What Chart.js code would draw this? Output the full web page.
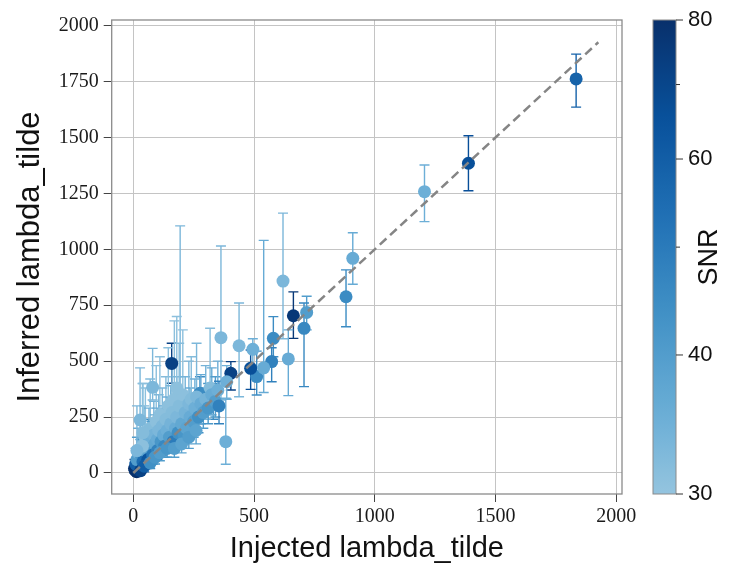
<!DOCTYPE html>
<html>
<head>
<meta charset="utf-8">
<script src="https://cdn.jsdelivr.net/npm/chart.js@4.4.1/dist/chart.umd.min.js"></script>
<style>
  html, body { margin: 0; padding: 0; background: #fff; }
  #wrap { width: 751px; height: 568px; position: relative; }
</style>
</head>
<body>
<div id="wrap"><canvas id="lambdachart"></canvas></div>
<script>
// injected vs inferred lambda_tilde, with 90% bounds and network SNR
const injected = [1834, 1388, 1206, 909, 881, 663, 718, 707, 642, 620,
  580, 573, 511, 486, 495, 438, 404, 387, 363, 383,
  331, 276, 269, 159, 80, 62, 28, 14, 118, 194,
  540, 5, 8, 20, 25, 10, 15, 20, 30, 35,
  40, 45, 50, 55, 60, 65, 70, 75, 80, 85,
  90, 95, 100, 100, 105, 110, 115, 120, 125, 130,
  135, 140, 145, 150, 155, 160, 165, 170, 175, 180,
  185, 190, 200, 205, 210, 215, 220, 230, 235, 240,
  250, 255, 262, 270, 280, 290, 300, 318, 310, 325,
  340, 350, 355, 30, 45, 70, 90, 110, 140, 170,
  200, 230, 260, 40, 38, 180, 15];
const inferred = [1762, 1385, 1258, 960, 788, 703, 718, 647, 510, 858,
  602, 498, 431, 468, 553, 569, 446, 408, 605, 140,
  311, 356, 282, 490, 383, 177, 237, 6, 118, 250,
  470, 20, 12, 15, 30, 40, 60, 90, 110, 70,
  50, 130, 160, 95, 60, 140, 200, 110, 80, 170,
  130, 230, 150, 100, 190, 260, 140, 210, 170, 120,
  240, 190, 300, 160, 220, 270, 140, 330, 200, 250,
  180, 300, 220, 350, 170, 270, 200, 310, 250, 330,
  230, 290, 340, 250, 310, 270, 330, 380, 290, 350,
  320, 370, 300, 10, 30, 45, 70, 90, 110, 110,
  130, 160, 190, 180, 120, 380, 100];
const lower = [1636, 1262, 1124, 844, 654, 602, 640, 386, 346, 600,
  520, 408, 349, 374, 475, 341, 371, 330, 326, 39,
  240, 280, 220, 401, 326, 120, 150, 0, 80, 120,
  360, 0, 0, 0, 5, 5, 10, 30, 40, 20,
  15, 60, 80, 40, 25, 70, 110, 50, 40, 90,
  70, 140, 80, 60, 100, 160, 80, 120, 100, 70,
  140, 110, 180, 100, 130, 170, 90, 200, 120, 150,
  110, 190, 140, 220, 110, 170, 130, 200, 170, 220,
  160, 200, 230, 180, 220, 200, 240, 260, 220, 260,
  250, 280, 220, 0, 5, 20, 40, 55, 70, 70,
  90, 110, 130, 100, 60, 260, 40];
const upper = [1873, 1508, 1377, 1074, 908, 810, 790, 760, 640, 1162,
  699, 560, 545, 550, 600, 760, 498, 480, 1015, 334,
  400, 430, 340, 580, 557, 240, 470, 20, 160, 1105,
  1040, 60, 40, 45, 80, 110, 160, 200, 250, 150,
  110, 300, 380, 200, 120, 290, 420, 230, 150, 320,
  260, 480, 290, 170, 350, 520, 260, 380, 300, 200,
  430, 340, 560, 260, 390, 470, 220, 680, 340, 430,
  300, 580, 360, 640, 270, 430, 320, 500, 380, 520,
  340, 420, 580, 360, 440, 380, 480, 647, 400, 470,
  430, 500, 410, 50, 90, 110, 140, 160, 190, 180,
  210, 250, 290, 400, 400, 700, 300];
const snr = [58, 66, 35, 36, 45, 76, 40, 46, 36, 33,
  45, 48, 45, 66, 35, 33, 72, 35, 33, 35,
  45, 45, 66, 72, 33, 45, 33, 80, 70, 33,
  36, 78, 80, 76, 70, 60, 40, 36, 34, 42,
  55, 33, 31, 38, 64, 35, 32, 40, 52, 34,
  37, 31, 36, 48, 33, 31, 42, 33, 36, 46,
  32, 35, 31, 40, 34, 32, 50, 31, 36, 33,
  44, 32, 37, 31, 42, 34, 38, 33, 36, 32,
  40, 35, 33, 44, 36, 40, 34, 32, 42, 36,
  40, 35, 48, 72, 60, 44, 42, 40, 42, 40,
  38, 40, 38, 32, 31, 31, 33];

const xTicks = [0, 500, 1000, 1500, 2000];
const yTicks = [0, 250, 500, 750, 1000, 1250, 1500, 1750, 2000];
const snrTicks = [30, 40, 60, 80];
const snrMinorTicks = [50, 70];
const diagonal = [0, 1926];

// matplotlib "Blues", sampled at nine even stops
const blues = ['#f7fbff', '#deebf7', '#c6dbef', '#9ecae1', '#6baed6',
  '#4292c6', '#2171b5', '#08519c', '#08306b'];
const BLUES_LO = 0.4;
const SNR_MIN = 30, SNR_MAX = 80;

function hexRgb(h) {
  return [1, 3, 5].map(i => parseInt(h.substr(i, 2), 16));
}
function bluesAt(t) {
  t = Math.min(1, Math.max(0, t)) * (blues.length - 1);
  const i = Math.min(blues.length - 2, Math.floor(t));
  const a = hexRgb(blues[i]), b = hexRgb(blues[i + 1]);
  const f = t - i;
  const c = a.map((v, k) => Math.round(v + (b[k] - v) * f));
  return 'rgb(' + c.join(',') + ')';
}
// log-normalised SNR -> colour
function snrFrac(v) {
  return Math.log(v / SNR_MIN) / Math.log(SNR_MAX / SNR_MIN);
}
function snrColor(v) {
  return bluesAt(BLUES_LO + (1 - BLUES_LO) * snrFrac(v));
}

const pointColors = snr.map(snrColor);

const serif = 'Liberation Serif';
const sans = 'Liberation Sans';

const errorBars = {
  id: 'errorBars',
  beforeDatasetsDraw(chart) {
    const {ctx, scales: {x, y}} = chart;
    ctx.save();
    ctx.lineWidth = 1.4;
    for (let i = 0; i < injected.length; i++) {
      const px = x.getPixelForValue(injected[i]);
      const lo = y.getPixelForValue(lower[i]);
      const hi = y.getPixelForValue(upper[i]);
      ctx.strokeStyle = pointColors[i];
      ctx.beginPath();
      ctx.moveTo(px, lo); ctx.lineTo(px, hi);
      ctx.moveTo(px - 5, lo); ctx.lineTo(px + 5, lo);
      ctx.moveTo(px - 5, hi); ctx.lineTo(px + 5, hi);
      ctx.stroke();
    }
    ctx.restore();
  }
};

const frameAndColorbar = {
  id: 'frameAndColorbar',
  afterDraw(chart) {
    const {ctx, chartArea: a} = chart;
    const s = chart.scales.snr;
    ctx.save();
    ctx.strokeStyle = '#8a8a8a';
    ctx.lineWidth = 1.3;
    ctx.strokeRect(a.left, a.top, a.right - a.left, a.bottom - a.top);

    // colour bar
    const left = a.right + 31, w = 23;
    const top = s.getPixelForValue(SNR_MAX), bottom = s.getPixelForValue(SNR_MIN);
    const g = ctx.createLinearGradient(0, bottom, 0, top);
    for (let k = 0; k <= 20; k++) {
      g.addColorStop(k / 20, bluesAt(BLUES_LO + (1 - BLUES_LO) * k / 20));
    }
    ctx.fillStyle = g;
    ctx.fillRect(left, top, w, bottom - top);
    ctx.strokeStyle = '#8a8a8a';
    ctx.lineWidth = 1;
    ctx.strokeRect(left, top, w, bottom - top);

    ctx.strokeStyle = '#333';
    ctx.fillStyle = '#111';
    ctx.font = '22px ' + sans;
    ctx.textAlign = 'left';
    ctx.textBaseline = 'middle';
    ctx.beginPath();
    snrTicks.forEach(v => {
      const py = s.getPixelForValue(v);
      ctx.moveTo(left + w, py); ctx.lineTo(left + w + 7, py);
      ctx.fillText(String(v), left + w + 12, py);
    });
    snrMinorTicks.forEach(v => {
      const py = s.getPixelForValue(v);
      ctx.moveTo(left + w, py); ctx.lineTo(left + w + 4, py);
    });
    ctx.stroke();

    ctx.font = '27px ' + sans;
    ctx.textAlign = 'center';
    ctx.translate(left + w + 34, (top + bottom) / 2);
    ctx.rotate(-Math.PI / 2);
    ctx.fillText('SNR', 0, 0);
    ctx.restore();
  }
};

const tickFont = {family: serif, size: 20};
const plain = v => String(v);

new Chart(document.getElementById('lambdachart'), {
  type: 'scatter',
  data: {
    datasets: [{
      data: injected.map((v, i) => ({x: v, y: inferred[i]})),
      backgroundColor: pointColors,
      borderWidth: 0,
      pointRadius: 6.5,
      pointHoverRadius: 6.5,
      order: 1
    }, {
      data: diagonal.map(v => ({x: v, y: v})),
      showLine: true,
      borderColor: '#858585',
      borderWidth: 2.5,
      borderDash: [9, 5],
      pointRadius: 0,
      order: 0
    }]
  },
  options: {
    responsive: true,
    maintainAspectRatio: false,
    animation: false,
    layout: {padding: {left: 0, top: 20, right: 129, bottom: 0}},
    plugins: {legend: {display: false}, tooltip: {enabled: false}},
    scales: {
      x: {
        type: 'linear',
        min: -89.5,
        max: 2024,
        afterBuildTicks: s => { s.ticks = xTicks.map(v => ({value: v})); },
        afterFit: s => { s.height = 74; },
        grid: {color: '#c4c4c4', lineWidth: 1, tickColor: '#444', tickLength: 8},
        border: {display: false},
        ticks: {font: tickFont, color: '#1a1a1a', padding: 3, maxRotation: 0, autoSkip: false, callback: plain},
        title: {display: true, text: 'Injected lambda_tilde', font: {family: sans, size: 29}, color: '#111', padding: {top: 0, bottom: 2}}
      },
      y: {
        type: 'linear',
        min: -94,
        max: 2025.5,
        afterBuildTicks: s => { s.ticks = yTicks.map(v => ({value: v})); },
        afterFit: s => { s.width = 111.7; },
        grid: {color: '#c4c4c4', lineWidth: 1, tickColor: '#444', tickLength: 8},
        border: {display: false},
        ticks: {font: tickFont, color: '#1a1a1a', padding: 5, autoSkip: false, callback: plain},
        title: {display: true, text: 'Inferred lambda_tilde', font: {family: sans, size: 31}, color: '#111', padding: {top: 12, bottom: 0}}
      },
      snr: {
        type: 'logarithmic',
        position: 'right',
        min: SNR_MIN,
        max: SNR_MAX,
        display: false
      }
    }
  },
  plugins: [errorBars, frameAndColorbar]
});
</script>
</body>
</html>
